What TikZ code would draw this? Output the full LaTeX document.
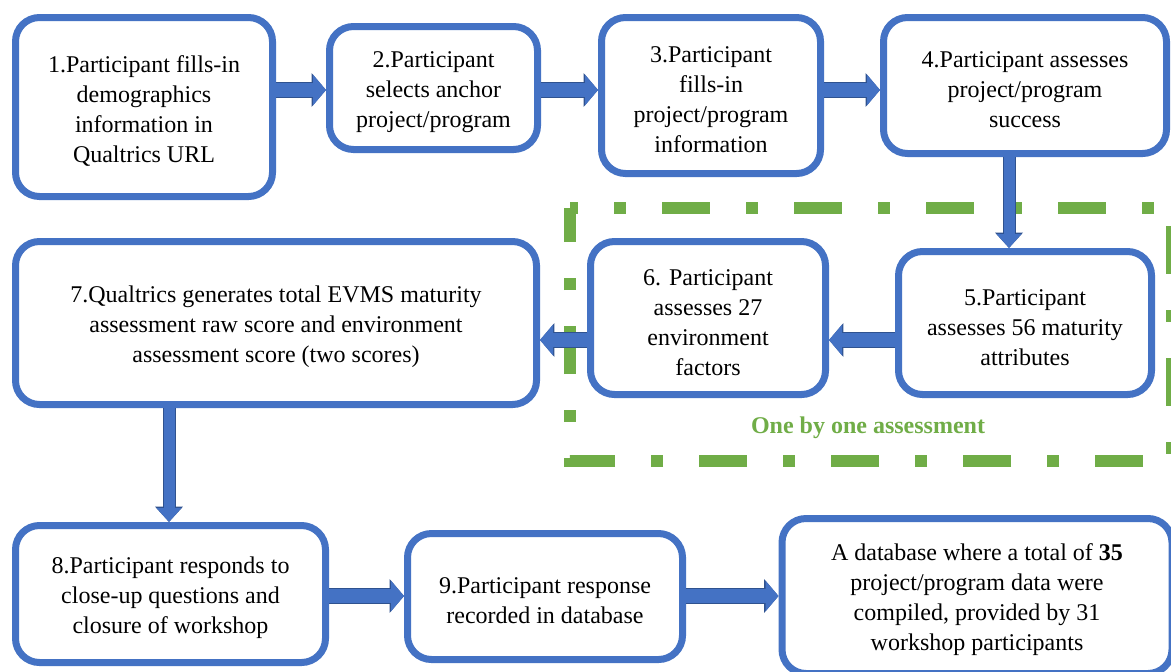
\documentclass[tikz,border=0pt]{standalone}
\usepackage{fontspec}
\setmainfont{Liberation Serif}
\usetikzlibrary{arrows.meta}
\definecolor{boxblue}{HTML}{4472C4}
\definecolor{arrowedge}{HTML}{2F528F}
\definecolor{grpgreen}{HTML}{70AD47}
\newcommand\topstrut{\rule{0pt}{12.5pt}}

\begin{document}
\begin{tikzpicture}[
  x=0.5pt, y=-0.5pt,
  font=\fontsize{12}{15}\selectfont,
  stepbox/.style={draw=boxblue, line width=3.5pt, rounded corners=12pt, fill=white, align=center, inner sep=2pt},
  fat/.style={draw=boxblue, line width=7pt, -{Triangle[length=6.5pt,width=15pt]},
    preaction={draw=arrowedge, line width=8pt, -{Triangle[length=7.2pt,width=16.5pt]}}},
  fatv/.style={draw=boxblue, line width=5.5pt, -{Triangle[length=7pt,width=12pt]},
    preaction={draw=arrowedge, line width=6.5pt, -{Triangle[length=7.7pt,width=13.5pt]}}},
  grpbox/.style={draw=grpgreen, line width=6pt, dash pattern=on 24pt off 18pt on 6pt off 18pt, dash phase=20pt},
]
\useasboundingbox (0,0) rectangle (1171,671);
\clip (0,0) rectangle (1171,671);
\fill[white] (0,0) rectangle (1171,671);
% One by one assessment group
\draw[grpbox] (570,208) -- (1172,208) -- (1172,461) -- (570,461) -- cycle;
\node[text=grpgreen, font=\fontsize{12}{15}\selectfont\bfseries] (grplabel) at (868,428) {One by one assessment};
% First row
\node[stepbox, minimum width=128.5pt, minimum height=89.5pt] (b1) at (144,107) {\topstrut 1.Participant fills-in\\demographics\\information in\\Qualtrics URL};
\node[stepbox, minimum width=104pt, minimum height=61.5pt] (b2) at (433.5,88) {\topstrut 2.Participant\\selects anchor\\project/program};
\node[stepbox, minimum width=109.5pt, minimum height=78pt] (b3) at (711,95.5) {\topstrut 3.Participant\\fills-in\\project/program\\information};
\node[stepbox, minimum width=141.5pt, minimum height=68pt] (b4) at (1025,85.5) {\topstrut 4.Participant assesses\\project/program\\success};
% Second row
\node[stepbox, minimum width=126.5pt, minimum height=71.5pt] (b5) at (1025,323) {\topstrut 5.Participant\\assesses 56 maturity\\attributes};
\node[stepbox, minimum width=117.5pt, minimum height=76.5pt] (b6) at (708,318) {\topstrut 6. Participant\\assesses 27\\environment\\factors};
\node[stepbox, minimum width=260.5pt, minimum height=81.5pt] (b7) at (276,323) {\topstrut 7.Qualtrics generates total EVMS maturity\\assessment raw score and environment\\assessment score (two scores)};
% Third row
\node[stepbox, minimum width=155pt, minimum height=68.5pt] (b8) at (170.5,594) {\topstrut 8.Participant responds to\\close-up questions and\\closure of workshop};
\node[stepbox, minimum width=137.5pt, minimum height=63pt] (b9) at (545,596.5) {\topstrut 9.Participant response\\recorded in database};
\node[stepbox, minimum width=195pt, minimum height=77.5pt] (db) at (977,596) {\topstrut A database where a total of \textbf{35}\\project/program data were\\compiled, provided by 31\\workshop participants};
% Flow
\draw[fat] (b1.east |- 0,90) -- (b2.west |- 0,90);
\draw[fat] (b2.east |- 0,90) -- (b3.west |- 0,90);
\draw[fat] (b3.east |- 0,90) -- (b4.west |- 0,90);
\draw[fatv] (b4.south -| 1009,0) -- (b5.north -| 1009,0);
\draw[fat] (b5.west |- 0,340) -- (b6.east |- 0,340);
\draw[fat] (b6.west |- 0,340) -- (b7.east |- 0,340);
\draw[fatv] (b7.south -| 169,0) -- (b8.north -| 169,0);
\draw[fat] (b8.east |- 0,596) -- (b9.west |- 0,596);
\draw[fat] (b9.east |- 0,596) -- (db.west |- 0,596);
\end{tikzpicture}
\end{document}
